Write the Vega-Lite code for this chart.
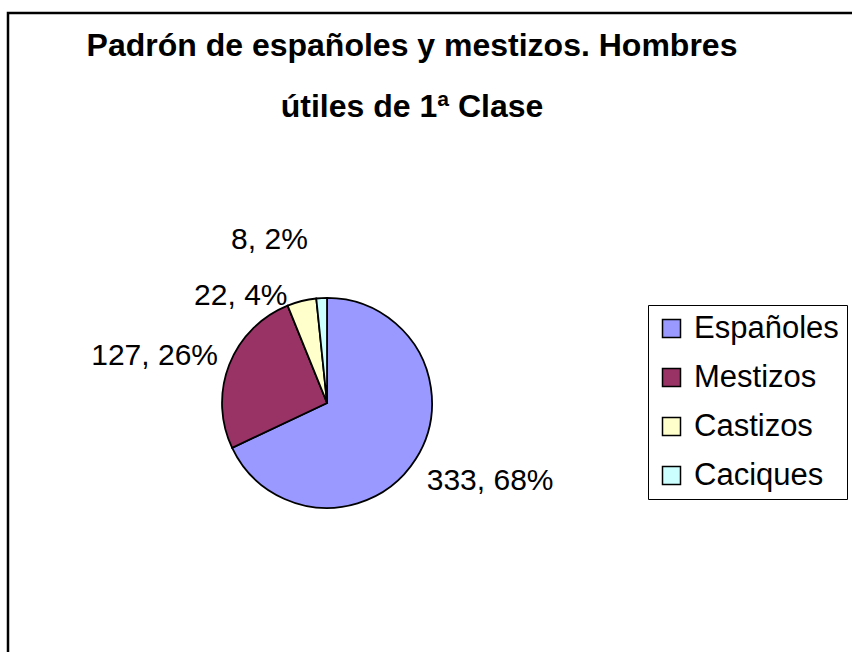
{
  "$schema": "https://vega.github.io/schema/vega-lite/v6.json",
  "width": 856,
  "height": 651,
  "autosize": {"type": "none"},
  "padding": {"left": 8, "top": 13, "right": -12, "bottom": -12},
  "background": "white",
  "view": {"stroke": "black", "strokeWidth": 2.5, "fill": "white"},
  "config": {
    "view": {"stroke": "black", "strokeWidth": 2.5},
    "font": "Liberation Sans"
  },
  "title": {
    "text": ["Padrón de españoles y mestizos. Hombres", "útiles de 1ª Clase"],
    "font": "Liberation Sans",
    "fontSize": 32,
    "fontWeight": "bold",
    "color": "black",
    "lineHeight": 61,
    "anchor": "middle",
    "frame": "group",
    "dx": -24,
    "offset": -111
  },
  "data": {
    "values": [
      {"categoria": "Españoles", "hombres": 333, "etiqueta": "333, 68%", "orden": 1},
      {"categoria": "Mestizos", "hombres": 127, "etiqueta": "127, 26%", "orden": 2},
      {"categoria": "Castizos", "hombres": 22, "etiqueta": "22, 4%", "orden": 3},
      {"categoria": "Caciques", "hombres": 8, "etiqueta": "8, 2%", "orden": 4}
    ]
  },
  "encoding": {
    "theta": {"field": "hombres", "type": "quantitative", "stack": true},
    "order": {"field": "orden", "type": "quantitative"}
  },
  "layer": [
    {
      "mark": {"type": "arc", "outerRadius": 105, "stroke": "black", "strokeWidth": 1.8, "x": {"expr": "width * 0.3727"}, "y": {"expr": "height * 0.599"}},
      "encoding": {
        "color": {
          "field": "categoria",
          "type": "nominal",
          "scale": {"domain": ["Españoles", "Mestizos", "Castizos", "Caciques"], "range": ["#9999FF", "#993366", "#FFFFCC", "#CCFFFF"]},
          "legend": {
            "orient": "none",
            "legendX": 640,
            "legendY": 292,
            "title": null,
            "labelFont": "Liberation Sans",
            "labelFontSize": 31,
            "labelColor": "black",
            "symbolType": "square",
            "symbolSize": 324,
            "symbolStrokeColor": "black",
            "symbolStrokeWidth": 1.5,
            "strokeColor": "black",
            "fillColor": "white",
            "padding": 8,
            "rowPadding": 17,
            "labelOffset": 7
          }
        }
      }
    },
    {
      "mark": {"type": "text", "radius": 118, "align": "left", "baseline": "top", "fontSize": 30, "font": "Liberation Sans", "color": "black", "x": {"expr": "width * 0.3727"}, "y": {"expr": "height * 0.599"}},
      "encoding": {"text": {"condition": {"test": "datum.categoria === 'Españoles'", "field": "etiqueta"}, "value": ""}}
    },
    {
      "mark": {"type": "text", "radius": 117, "align": "right", "baseline": "alphabetic", "dy": 5, "fontSize": 30, "font": "Liberation Sans", "color": "black", "x": {"expr": "width * 0.3727"}, "y": {"expr": "height * 0.599"}},
      "encoding": {"text": {"condition": {"test": "datum.categoria === 'Mestizos'", "field": "etiqueta"}, "value": ""}}
    },
    {
      "mark": {"type": "text", "radius": 110, "align": "right", "baseline": "alphabetic", "dx": -13, "dy": 9, "fontSize": 30, "font": "Liberation Sans", "color": "black", "x": {"expr": "width * 0.3727"}, "y": {"expr": "height * 0.599"}},
      "encoding": {"text": {"condition": {"test": "datum.categoria === 'Castizos'", "field": "etiqueta"}, "value": ""}}
    },
    {
      "mark": {"type": "text", "radius": 160, "align": "right", "baseline": "alphabetic", "dx": -11, "dy": 6, "fontSize": 30, "font": "Liberation Sans", "color": "black", "x": {"expr": "width * 0.3727"}, "y": {"expr": "height * 0.599"}},
      "encoding": {"text": {"condition": {"test": "datum.categoria === 'Caciques'", "field": "etiqueta"}, "value": ""}}
    }
  ]
}
